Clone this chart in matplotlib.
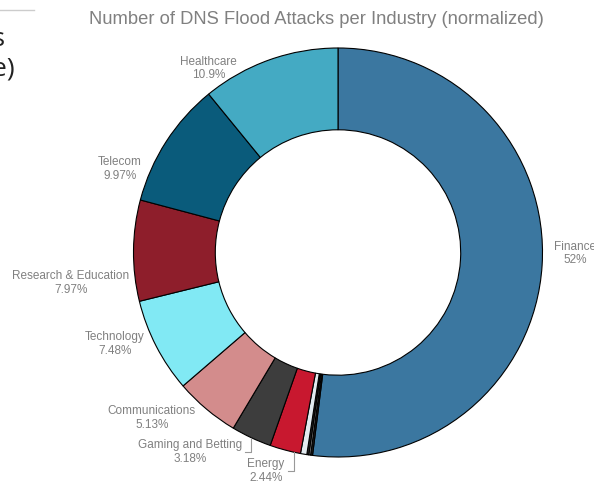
import matplotlib
matplotlib.use("Agg")
import matplotlib.pyplot as plt
import numpy as np

# industries in clockwise order starting at 12 o'clock
industries = ["Finance", "Other 1", "Other 2", "Other 3", "Other 4", "Energy",
              "Gaming and Betting", "Communications", "Technology",
              "Research & Education", "Telecom", "Healthcare"]
shares = [52, 0.15, 0.15, 0.15, 0.5, 2.44, 3.18, 5.13, 7.48, 7.97, 9.97, 10.9]
labels = ["52%", None, None, None, None, "2.44%", "3.18%", "5.13%", "7.48%",
          "7.97%", "9.97%", "10.9%"]
colors = ["#3b77a0", "#222222", "#8a8a8a", "#2b2b2b", "#e2eaef", "#c8182f",
          "#3d3d3d", "#d38c8c", "#81e9f4", "#8e1e2b", "#0a5b7b", "#44aac3"]

# label spots: (clockwise angle from top in degrees, radius), None = no label
label_spots = [(90, 1.16), None, None, None, None, (198.3, 1.12),
               (216.7, 1.21), (228.5, 1.215), (247.9, 1.177),
               (263.7, 1.315), (291.2, 1.143), (325, 1.104)]
with_connector = ["Energy", "Gaming and Betting"]

W, H = 594, 485
cx, cy, R = 338, 253.5, 204.5  # pixel centre / radius of the donut

fig = plt.figure(figsize=(W / 100, H / 100), dpi=100)
ax = fig.add_axes([0, 0, 1, 1])
ax.pie(shares, colors=colors, startangle=90, counterclock=False, radius=1,
       wedgeprops=dict(width=0.4, edgecolor="black", linewidth=0.8))
ax.set_xlim(-cx / R, (W - cx) / R)
ax.set_ylim((cy - H) / R, cy / R)
ax.set_aspect("equal")
ax.axis("off")

grey = "#808080"
texts = []
for name, lab, spot in zip(industries, labels, label_spots):
    if spot is None:
        continue
    a = np.radians(spot[0])
    x, y = spot[1] * np.sin(a), spot[1] * np.cos(a)
    t = ax.text(x, y, name + "\n" + lab, ha="center", va="center",
                fontsize=8.5, color=grey, family="Liberation Sans",
                linespacing=1.15)
    texts.append((name, t, y))

# bracket-like connectors for the two small slices
fig.canvas.draw()
rend = fig.canvas.get_renderer()
inv = ax.transData.inverted()
for name, t, y in texts:
    if name not in with_connector:
        continue
    bb = t.get_window_extent(rend)
    x0 = inv.transform((bb.x1 + 3, 0))[0]
    x1 = inv.transform((bb.x1 + 9, 0))[0]
    ytop = -np.sqrt(1 - x1 ** 2)
    yl = y - 1.5 / R
    ax.plot([x0, x1, x1], [yl, yl, ytop], color="#999999", lw=0.8)

fig.text(316 / W, 1 - 19 / H,
         "Number of DNS Flood Attacks per Industry (normalized)",
         ha="center", va="center", fontsize=13.2, color=grey,
         family="Liberation Sans")

# remains of the neighbouring chart at the left edge
fig.add_artist(plt.Line2D([0, 34 / W], [1 - 11 / H, 1 - 11 / H],
                          color="#cccccc", lw=1))
fig.text(5.5 / W, 1 - 46 / H, "Attacks", ha="right", va="baseline",
         fontsize=19, color="#222222", family="Open Sans")
fig.text(14.5 / W, 1 - 76 / H, "(log scale)", ha="right", va="baseline",
         fontsize=19, color="#222222", family="Open Sans")

fig.savefig("out.png", dpi=100)
